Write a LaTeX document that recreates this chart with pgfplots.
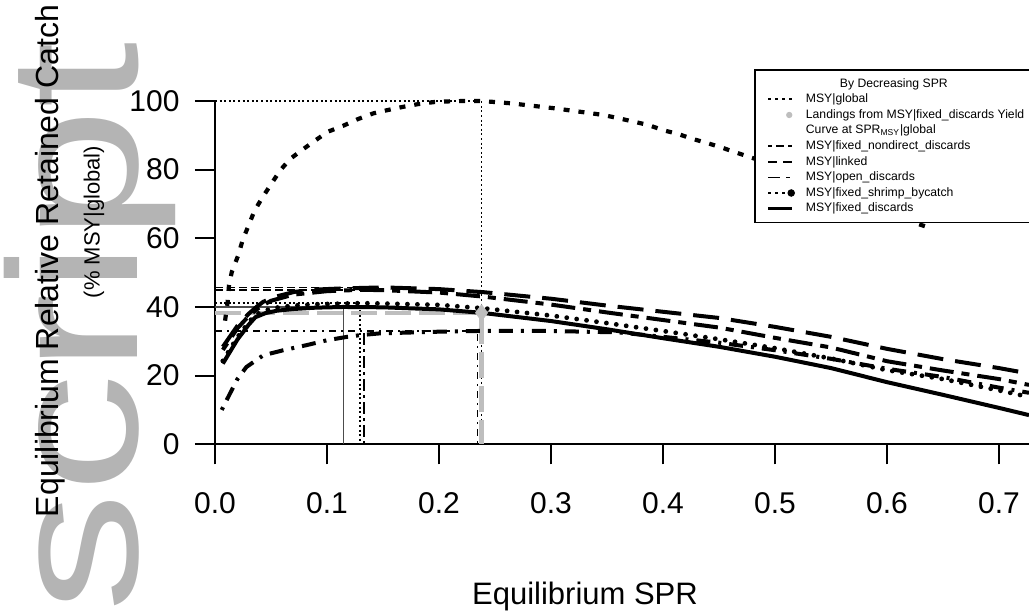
\documentclass[border=0pt]{standalone}
\usepackage{fontspec}
\setmainfont{Liberation Sans}
\usepackage{pgfplots}
\pgfplotsset{compat=1.18}
\definecolor{wmgray}{RGB}{180,180,180}
\definecolor{refgray}{RGB}{190,190,190}

\tikzset{
  globalc/.style={line width=2.1pt, dash pattern=on 3pt off 4.5pt},
  linkedc/.style={line width=2pt, dash pattern=on 13pt off 6pt},
  nondirc/.style={line width=2pt, dash pattern=on 4pt off 4pt on 12pt off 4pt},
  openc/.style={line width=2pt, dash pattern=on 1.5pt off 4pt on 7pt off 4pt},
  shrimpc/.style={line width=2.4pt, line cap=round, dash pattern=on 0pt off 5pt},
  fixedc/.style={line width=2pt},
  thinref/.style={line width=0.7pt},
}

\begin{document}
\begin{tikzpicture}
% watermark
\node[rotate=90, anchor=base east, inner sep=0pt, text=wmgray,
      font=\fontsize{92}{92}\selectfont] at (68.5pt,286pt)
  {\scalebox{1.3}[1]{Manuscript}};

\begin{axis}[
  at={(107.5pt,84.35pt)}, anchor=south west,
  scale only axis, width=407pt, height=171.65pt,
  xmin=0, xmax=0.7268, ymin=0, ymax=100,
  clip=false,
  axis x line*=bottom, axis y line*=left,
  axis line style={-, line width=1pt},
  tick align=outside, major tick length=10pt,
  every tick/.style={black, line width=1pt},
  xtick={0,0.1,0.2,0.3,0.4,0.5,0.6,0.7},
  xticklabels={0.0,0.1,0.2,0.3,0.4,0.5,0.6,0.7},
  ytick={0,20,40,60,80,100},
  yticklabels={0,20,40,60,80,100},
  tick label style={font=\fontsize{15}{17}\selectfont},
  xticklabel style={yshift=-10.5pt},
  yticklabel style={anchor=east, xshift=-4.2pt},
  legend image code/.code={\draw[#1] (0pt,0pt) -- (12pt,0pt);},
  legend cell align=left,
  legend style={
    at={(0.6622,1.0932)}, anchor=north west,
    draw=black, line width=0.9pt, fill=white,
    font=\fontsize{6.1}{7}\selectfont,
    inner xsep=6pt, inner ysep=3.5pt,
    row sep=0.9pt, column sep=5.5pt,
    nodes={inner xsep=0pt, inner ysep=0.5pt, text height=4.6pt, text depth=1.3pt},
  },
]

% reference lines at each MSY
\addplot[thinref, dash pattern=on 1pt off 1.3pt, forget plot]
  coordinates {(0,100) (0.238,100) (0.238,0)};
\addplot[thinref, dash pattern=on 4pt off 2pt, forget plot]
  coordinates {(0,45.7) (0.15,45.7)};
\addplot[thinref, dash pattern=on 4pt off 2pt, forget plot]
  coordinates {(0,45.0) (0.13,45.0)};
\addplot[thinref, dash pattern=on 1pt off 1.3pt, forget plot]
  coordinates {(0,41.1) (0.1295,41.1) (0.1295,0)};
\addplot[thinref, black!70, forget plot]
  coordinates {(0,40.0) (0.115,40.0) (0.115,0)};
\addplot[thinref, dash pattern=on 3.5pt off 2.5pt on 1pt off 2.5pt, forget plot]
  coordinates {(0,33.0) (0.2345,33.0) (0.2345,0)};
\addplot[line width=1.4pt, dash pattern=on 6pt off 2pt on 1.5pt off 2pt, forget plot]
  coordinates {(0.133,32.3) (0.133,0)};
\addplot[refgray, line width=2.2pt, dash pattern=on 13pt off 4pt, forget plot]
  coordinates {(0,38.3) (0.238,38.3) (0.238,0)};

% MSY|global
\addplot[globalc, forget plot] coordinates {
  (0.009,36) (0.0113,41.5) (0.0125,46.4) (0.015,50.2) (0.0208,55.1)
  (0.0247,59.5) (0.0298,63.6) (0.0351,67.9) (0.0423,71.9) (0.05,75.7)
  (0.058,79.7) (0.067,83.1) (0.0789,86.0) (0.0899,88.6) (0.1012,91.1)
  (0.1146,92.8) (0.1274,94.7) (0.1414,96.4) (0.1548,97.4) (0.168,98.3)
  (0.1815,99.1) (0.196,99.7) (0.21,99.9) (0.223,100) (0.2366,100)
  (0.25,99.7) (0.265,99.3) (0.278,98.8) (0.2917,98.3) (0.305,97.8)
  (0.318,97.2) (0.332,96.6) (0.347,95.9) (0.36,95.0) (0.3735,94.0)
  (0.387,93.0) (0.4,91.5) (0.4134,90.4) (0.427,88.9) (0.44,87.7)
  (0.4536,86.3) (0.467,84.8) (0.48,83.4) (0.5,81.0) (0.52,78.5)
  (0.54,76.0) (0.56,73.0) (0.58,70.5) (0.6,68.0) (0.6265,64.3) (0.637,63.2)
};
% MSY|linked
\addplot[linkedc, forget plot] coordinates {
  (0.007,28.4) (0.02,34.5) (0.03,38.0) (0.037,40.0) (0.043,41.5)
  (0.054,43.0) (0.071,44.4) (0.092,45.1) (0.113,45.4) (0.15,45.7)
  (0.2,45.2) (0.24,44.3) (0.3,42.4) (0.35,40.4) (0.4,38.6) (0.45,36.8)
  (0.5,34.2) (0.55,31.3) (0.6,27.8) (0.65,24.8) (0.7,22.2) (0.7268,20.6)
};
% MSY|fixed_nondirect_discards
\addplot[nondirc, forget plot] coordinates {
  (0.007,27.5) (0.02,33.8) (0.03,37.3) (0.04,40.0) (0.05,41.8)
  (0.07,43.6) (0.1,44.6) (0.13,45.0) (0.15,44.9) (0.2,44.2) (0.24,43.0)
  (0.3,40.7) (0.35,38.4) (0.4,36.2) (0.45,34.0) (0.5,31.0) (0.55,28.2)
  (0.6,24.2) (0.65,21.5) (0.7,19.0) (0.7268,17.3)
};
% MSY|open_discards
\addplot[openc, forget plot] coordinates {
  (0.006,10.0) (0.0134,14.8) (0.02,19.0) (0.028,22.5) (0.043,25.9)
  (0.061,27.4) (0.082,28.9) (0.1,30.3) (0.118,31.3) (0.13,31.8)
  (0.147,32.3) (0.2,32.8) (0.2345,33.0) (0.3,33.0) (0.36,32.6) (0.4,31.3)
  (0.45,29.6) (0.5,27.4) (0.55,24.9) (0.6,22.0) (0.65,19.6) (0.7,16.5)
  (0.7268,15.0)
};
% MSY|fixed_shrimp_bycatch
\addplot[shrimpc, forget plot] coordinates {
  (0.007,24.3) (0.02,31.2) (0.03,35.5) (0.036,37.7) (0.045,39.0)
  (0.055,39.8) (0.07,40.4) (0.09,40.8) (0.13,41.1) (0.15,41.0) (0.2,40.6)
  (0.24,39.6) (0.3,37.5) (0.35,35.3) (0.4,33.0) (0.45,30.6) (0.5,28.0)
  (0.55,25.0) (0.6,21.6) (0.65,19.0) (0.7,15.7) (0.7268,13.8)
};
% MSY|fixed_discards
\addplot[fixedc, forget plot] coordinates {
  (0.007,23.5) (0.02,30.5) (0.03,34.8) (0.036,37.0) (0.045,38.2)
  (0.055,38.9) (0.07,39.4) (0.09,39.8) (0.115,40.0) (0.15,39.9) (0.2,39.3)
  (0.238,38.3) (0.3,35.9) (0.35,33.5) (0.4,30.9) (0.45,28.4) (0.5,25.5)
  (0.55,22.2) (0.6,18.1) (0.65,14.4) (0.7,10.6) (0.7268,8.5)
};
% landings from MSY|fixed_discards at SPR_MSY|global
\addplot[only marks, mark=diamond*, mark size=4pt, color=refgray, forget plot]
  coordinates {(0.238,38.3)};

% legend
\addlegendimage{empty legend}
\addlegendentry{\hspace{17pt}By Decreasing SPR\rule[-2.4pt]{0pt}{1pt}}
\addlegendimage{line width=1.1pt, dash pattern=on 1.2pt off 2.3pt}
\addlegendentry{MSY|global}
\addlegendimage{legend image code/.code={\fill[refgray] (10.5pt,0pt) circle (1.1pt);}}
\addlegendentry{Landings from MSY|fixed\_discards Yield\hspace{8pt}}
\addlegendimage{empty legend}
\addlegendentry{Curve at SPR\textsubscript{MSY}|global}
\addlegendimage{line width=0.8pt, dash pattern=on 2pt off 2pt on 4pt off 2pt}
\addlegendentry{MSY|fixed\_nondirect\_discards}
\addlegendimage{line width=0.8pt, dash pattern=on 4.5pt off 3pt}
\addlegendentry{MSY|linked}
\addlegendimage{line width=0.8pt, dash pattern=on 6pt off 3pt on 2pt off 3pt}
\addlegendentry{MSY|open\_discards}
\addlegendimage{legend image code/.code={%
  \draw[line width=1.1pt, dash pattern=on 1.2pt off 2.3pt] (0pt,0pt) -- (11pt,0pt);
  \fill (11.5pt,0pt) circle (1.4pt);}}
\addlegendentry{MSY|fixed\_shrimp\_bycatch}
\addlegendimage{line width=1.3pt}
\addlegendentry{MSY|fixed\_discards}
\end{axis}

% axis titles
\node[rotate=90, font=\fontsize{16}{18}\selectfont] at (25pt,176pt)
  {Equilibrium Relative Retained Catch};
\node[rotate=90, font=\fontsize{11}{13}\selectfont] at (47pt,195.5pt)
  {(\% MSY|global)};
\node[font=\fontsize{15.5}{18}\selectfont] at (292.5pt,8.5pt) {Equilibrium SPR};

\pgfresetboundingbox
\path[use as bounding box] (0pt,0pt) rectangle (514.5pt,306.5pt);
\end{tikzpicture}
\end{document}
